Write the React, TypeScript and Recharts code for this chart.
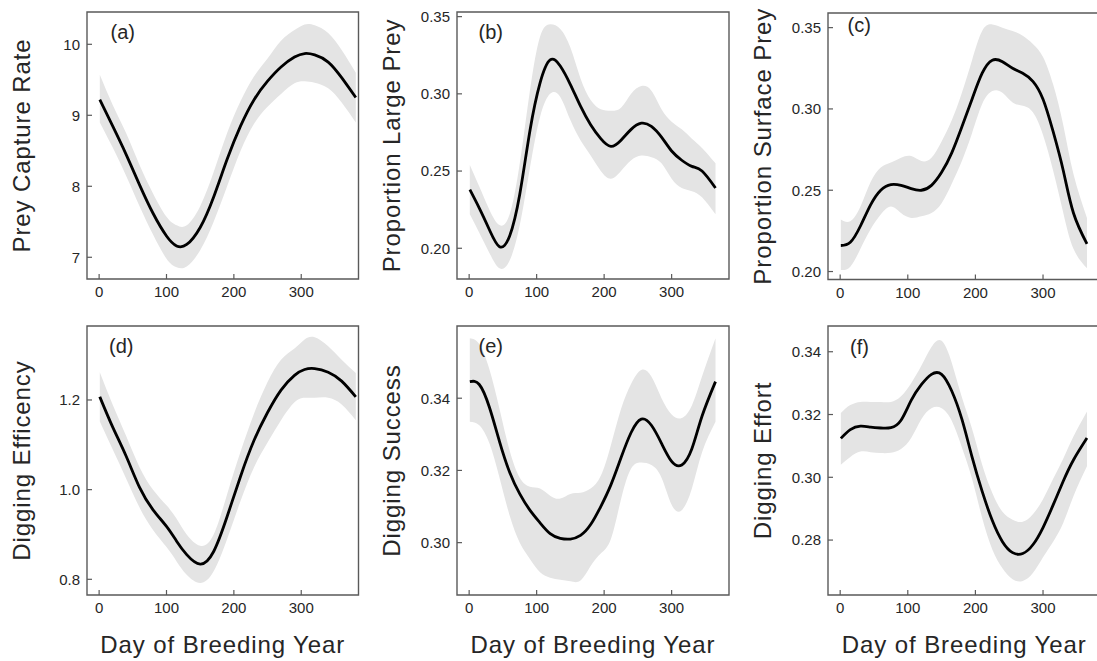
import React from 'react';
import { ComposedChart, Area, Line, XAxis, YAxis, ReferenceArea } from 'recharts';

// ---------- data ----------
const leftDays = [1, 20, 40, 60, 80, 100, 115, 130, 150, 170, 190, 210, 230, 250, 270, 290, 305, 320, 340, 360, 381];
const days = [1, 15, 30, 45, 60, 75, 90, 105, 120, 135, 150, 165, 180, 195, 210, 225, 240, 255, 270, 285, 300, 315, 330, 345, 365];

// (a) Prey Capture Rate (leftDays)
const captureMean = [9.22, 8.85, 8.45, 8.02, 7.62, 7.3, 7.16, 7.18, 7.42, 7.85, 8.38, 8.85, 9.22, 9.48, 9.68, 9.82, 9.87, 9.85, 9.75, 9.53, 9.25];
const captureUpper = [9.57, 9.15, 8.75, 8.3, 7.9, 7.57, 7.45, 7.45, 7.72, 8.2, 8.75, 9.2, 9.55, 9.8, 10.05, 10.2, 10.28, 10.27, 10.16, 9.92, 9.6];
const captureLower = [8.9, 8.55, 8.15, 7.72, 7.32, 6.98, 6.86, 6.87, 7.1, 7.5, 8.0, 8.5, 8.88, 9.12, 9.3, 9.45, 9.48, 9.46, 9.38, 9.18, 8.9];

// (b) Proportion Large Prey (days)
const largeMean = [0.238, 0.226, 0.212, 0.201, 0.208, 0.235, 0.276, 0.307, 0.322, 0.318, 0.306, 0.292, 0.28, 0.271, 0.266, 0.27, 0.277, 0.281, 0.279, 0.272, 0.263, 0.257, 0.253, 0.25, 0.239];
const largeUpper = [0.254, 0.24, 0.225, 0.215, 0.222, 0.255, 0.302, 0.337, 0.345, 0.342, 0.33, 0.31, 0.296, 0.29, 0.289, 0.291, 0.3, 0.305, 0.302, 0.29, 0.282, 0.277, 0.271, 0.265, 0.255];
const largeLower = [0.222, 0.21, 0.197, 0.187, 0.192, 0.215, 0.252, 0.285, 0.3, 0.298, 0.283, 0.27, 0.26, 0.25, 0.245, 0.25, 0.257, 0.26, 0.259, 0.255, 0.245, 0.239, 0.237, 0.233, 0.222];

// (c) Proportion Surface Prey (days)
const surfaceMean = [0.216, 0.218, 0.228, 0.241, 0.25, 0.2535, 0.253, 0.251, 0.25, 0.253, 0.261, 0.273, 0.289, 0.306, 0.322, 0.33, 0.329, 0.325, 0.322, 0.317, 0.306, 0.286, 0.262, 0.236, 0.217];
const surfaceUpper = [0.232, 0.231, 0.24, 0.255, 0.264, 0.267, 0.27, 0.271, 0.268, 0.27, 0.28, 0.293, 0.31, 0.33, 0.348, 0.352, 0.35, 0.348, 0.345, 0.34, 0.332, 0.315, 0.29, 0.26, 0.233];
const surfaceLower = [0.201, 0.203, 0.214, 0.226, 0.235, 0.24, 0.236, 0.233, 0.234, 0.236, 0.242, 0.254, 0.268, 0.285, 0.303, 0.311, 0.31, 0.304, 0.302, 0.298, 0.284, 0.262, 0.236, 0.214, 0.202];

// (d) Digging Efficency (leftDays)
const efficMean = [1.207, 1.14, 1.075, 1.005, 0.955, 0.918, 0.885, 0.855, 0.834, 0.862, 0.94, 1.03, 1.11, 1.172, 1.222, 1.255, 1.268, 1.27, 1.262, 1.242, 1.207];
const efficUpper = [1.262, 1.19, 1.12, 1.05, 1.0, 0.965, 0.935, 0.9, 0.875, 0.9, 0.99, 1.085, 1.17, 1.24, 1.29, 1.315, 1.335, 1.34, 1.32, 1.29, 1.26];
const efficLower = [1.152, 1.09, 1.025, 0.96, 0.91, 0.872, 0.84, 0.81, 0.792, 0.818, 0.89, 0.975, 1.05, 1.105, 1.155, 1.195, 1.205, 1.205, 1.205, 1.19, 1.155];

// (e) Digging Success (days)
const successMean = [0.3446, 0.3438, 0.3375, 0.328, 0.3195, 0.3135, 0.309, 0.3055, 0.3025, 0.3012, 0.301, 0.302, 0.305, 0.31, 0.316, 0.3235, 0.3305, 0.3342, 0.3325, 0.3275, 0.3225, 0.3215, 0.326, 0.335, 0.3446];
const successUpper = [0.3566, 0.355, 0.348, 0.337, 0.3255, 0.318, 0.3155, 0.315, 0.313, 0.3122, 0.3135, 0.3138, 0.315, 0.3185, 0.327, 0.337, 0.344, 0.3478, 0.346, 0.34, 0.3355, 0.3345, 0.338, 0.346, 0.3566];
const successLower = [0.3335, 0.3325, 0.3275, 0.318, 0.3075, 0.3, 0.2955, 0.2918, 0.2903, 0.2897, 0.2893, 0.2895, 0.2935, 0.297, 0.301, 0.312, 0.3205, 0.3222, 0.3215, 0.318, 0.3105, 0.309, 0.315, 0.325, 0.3335];

// (f) Digging Effort (days)
const effortMean = [0.3124, 0.3152, 0.3163, 0.316, 0.3157, 0.3158, 0.3182, 0.3245, 0.3295, 0.3328, 0.3328, 0.3275, 0.3185, 0.3065, 0.2955, 0.2862, 0.2795, 0.276, 0.2757, 0.2785, 0.284, 0.2912, 0.2988, 0.3055, 0.3125];
const effortUpper = [0.3205, 0.323, 0.324, 0.324, 0.324, 0.324, 0.3258, 0.33, 0.3355, 0.3415, 0.3435, 0.3365, 0.3255, 0.3155, 0.304, 0.295, 0.289, 0.2865, 0.2858, 0.2882, 0.293, 0.2995, 0.306, 0.313, 0.321];
const effortLower = [0.304, 0.3065, 0.3082, 0.308, 0.3077, 0.3078, 0.309, 0.3125, 0.3185, 0.322, 0.322, 0.318, 0.3095, 0.2995, 0.287, 0.277, 0.271, 0.2675, 0.267, 0.2695, 0.2745, 0.2795, 0.2855, 0.294, 0.3035];

const xTicks = [0, 100, 200, 300];
const ticksA = [7, 8, 9, 10];
const ticksB = [0.2, 0.25, 0.3, 0.35];
const ticksC = [0.2, 0.25, 0.3, 0.35];
const ticksD = [0.8, 1.0, 1.2];
const ticksE = [0.3, 0.32, 0.34];
const ticksF = [0.28, 0.3, 0.32, 0.34];

const xTitle = 'Day of Breeding Year';

// ---------- layout / style ----------
const FONT = "'Liberation Sans', Arial, Helvetica, sans-serif";
const AXIS_COLOR = '#5a5a5a';
const TEXT_COLOR = '#262626';
const BAND_COLOR = '#e4e4e4';
const CURVE = 'natural';
const X_DOMAIN = [-18, 385];
const LEFT = 90;
const TOP = 10;
const RIGHT = 10;
const XH = 70;

type PanelCfg = {
  letter: string;
  title: string;
  x: number[];
  mean: number[];
  lo: number[];
  hi: number[];
  yDomain: number[];
  yTicks: number[];
  dec: number;
  box: { x: number; y: number; w: number; h: number };
  letterPos: { dx: number; dy: number };
  showX: boolean;
};

const panels: PanelCfg[] = [
  { letter: '(a)', title: 'Prey Capture Rate', x: leftDays, mean: captureMean, lo: captureLower, hi: captureUpper, yDomain: [6.694, 10.455], yTicks: ticksA, dec: 0, box: { x: 86.5, y: 12, w: 271.5, h: 267 }, letterPos: { dx: 23.5, dy: 27 }, showX: false },
  { letter: '(b)', title: 'Proportion Large Prey', x: days, mean: largeMean, lo: largeLower, hi: largeUpper, yDomain: [0.1801, 0.353], yTicks: ticksB, dec: 2, box: { x: 457, y: 12, w: 272, h: 267 }, letterPos: { dx: 21.5, dy: 27 }, showX: false },
  { letter: '(c)', title: 'Proportion Surface Prey', x: days, mean: surfaceMean, lo: surfaceLower, hi: surfaceUpper, yDomain: [0.1951, 0.359], yTicks: ticksC, dec: 2, box: { x: 827.5, y: 12.5, w: 272.5, h: 266.5 }, letterPos: { dx: 19.5, dy: 18.5 }, showX: false },
  { letter: '(d)', title: 'Digging Efficency', x: leftDays, mean: efficMean, lo: efficLower, hi: efficUpper, yDomain: [0.765, 1.365], yTicks: ticksD, dec: 1, box: { x: 86.5, y: 326, w: 271.5, h: 269 }, letterPos: { dx: 22, dy: 27 }, showX: true },
  { letter: '(e)', title: 'Digging Success', x: days, mean: successMean, lo: successLower, hi: successUpper, yDomain: [0.2855, 0.36], yTicks: ticksE, dec: 2, box: { x: 457, y: 326, w: 272, h: 269 }, letterPos: { dx: 21.5, dy: 27 }, showX: true },
  { letter: '(f)', title: 'Digging Effort', x: days, mean: effortMean, lo: effortLower, hi: effortUpper, yDomain: [0.2625, 0.3482], yTicks: ticksF, dec: 2, box: { x: 827.5, y: 326, w: 272.5, h: 269 }, letterPos: { dx: 22, dy: 28 }, showX: true },
];

const XTick = (props: any) => {
  const { x, y, payload } = props;
  return (
    <g>
      <line x1={x} y1={y} x2={x} y2={y - 5} stroke={AXIS_COLOR} strokeWidth={1.2} />
      <text x={x} y={y + 13} dy="0.36em" textAnchor="middle" fontSize={15} fill={TEXT_COLOR} fontFamily={FONT}>
        {payload.value}
      </text>
    </g>
  );
};

const makeYTick = (dec: number) => (props: any) => {
  const { x, y, payload } = props;
  return (
    <g>
      <line x1={x} y1={y} x2={x + 5} y2={y} stroke={AXIS_COLOR} strokeWidth={1.2} />
      <text x={x - 7} y={y} dy="0.36em" textAnchor="end" fontSize={15} fill={TEXT_COLOR} fontFamily={FONT}>
        {Number(payload.value).toFixed(dec)}
      </text>
    </g>
  );
};

function Panel({ cfg }: { cfg: PanelCfg }) {
  const { box } = cfg;
  const data = cfg.x.map((d, i) => ({ day: d, mean: cfg.mean[i], band: [cfg.lo[i], cfg.hi[i]] }));
  const width = box.w + LEFT + RIGHT;
  const height = box.h + TOP + XH;
  const renderTexts = (props: any) => {
    const vb = props.viewBox || { x: LEFT, y: TOP, width: box.w, height: box.h };
    return (
      <g fontFamily={FONT}>
        <text x={vb.x + cfg.letterPos.dx} y={vb.y + cfg.letterPos.dy} fontSize={20} fill={TEXT_COLOR}>
          {cfg.letter}
        </text>
        <text
          transform={`translate(${vb.x - 57.5}, ${vb.y + vb.height / 2}) rotate(-90)`}
          textAnchor="middle"
          fontSize={24}
          letterSpacing={0.9}
          fill={TEXT_COLOR}
        >
          {cfg.title}
        </text>
        {cfg.showX && (
          <text x={vb.x + vb.width / 2} y={vb.y + vb.height + 57.5} textAnchor="middle" fontSize={24} letterSpacing={0.9} fill={TEXT_COLOR}>
            {xTitle}
          </text>
        )}
      </g>
    );
  };
  return (
    <div style={{ position: 'absolute', left: box.x - LEFT, top: box.y - TOP }}>
      <ComposedChart width={width} height={height} data={data} margin={{ top: TOP, right: RIGHT, left: 0, bottom: 0 }}>
        <XAxis
          dataKey="day"
          type="number"
          domain={X_DOMAIN}
          ticks={xTicks}
          interval={0}
          allowDataOverflow
          axisLine={false}
          tickLine={false}
          tickSize={0}
          tickMargin={0}
          height={XH}
          tick={XTick}
        />
        <YAxis
          type="number"
          domain={cfg.yDomain}
          ticks={cfg.yTicks}
          interval={0}
          allowDataOverflow
          axisLine={false}
          tickLine={false}
          tickSize={0}
          tickMargin={0}
          width={LEFT}
          tick={makeYTick(cfg.dec)}
        />
        <Area dataKey="band" type={CURVE} fill={BAND_COLOR} fillOpacity={1} stroke="none" isAnimationActive={false} activeDot={false} />
        <Line dataKey="mean" type={CURVE} stroke="#000" strokeWidth={2.8} dot={false} activeDot={false} isAnimationActive={false} />
        <ReferenceArea
          x1={X_DOMAIN[0]}
          x2={X_DOMAIN[1]}
          y1={cfg.yDomain[0]}
          y2={cfg.yDomain[1]}
          fill="none"
          fillOpacity={0}
          stroke={AXIS_COLOR}
          strokeWidth={1.4}
          ifOverflow="visible"
          label={renderTexts}
        />
      </ComposedChart>
    </div>
  );
}

export default function App() {
  return (
    <div style={{ position: 'fixed', left: 0, top: 0, width: 1097, height: 661, overflow: 'hidden', background: '#fff', fontFamily: FONT }}>
      {panels.map((p) => (
        <Panel key={p.letter} cfg={p} />
      ))}
    </div>
  );
}
